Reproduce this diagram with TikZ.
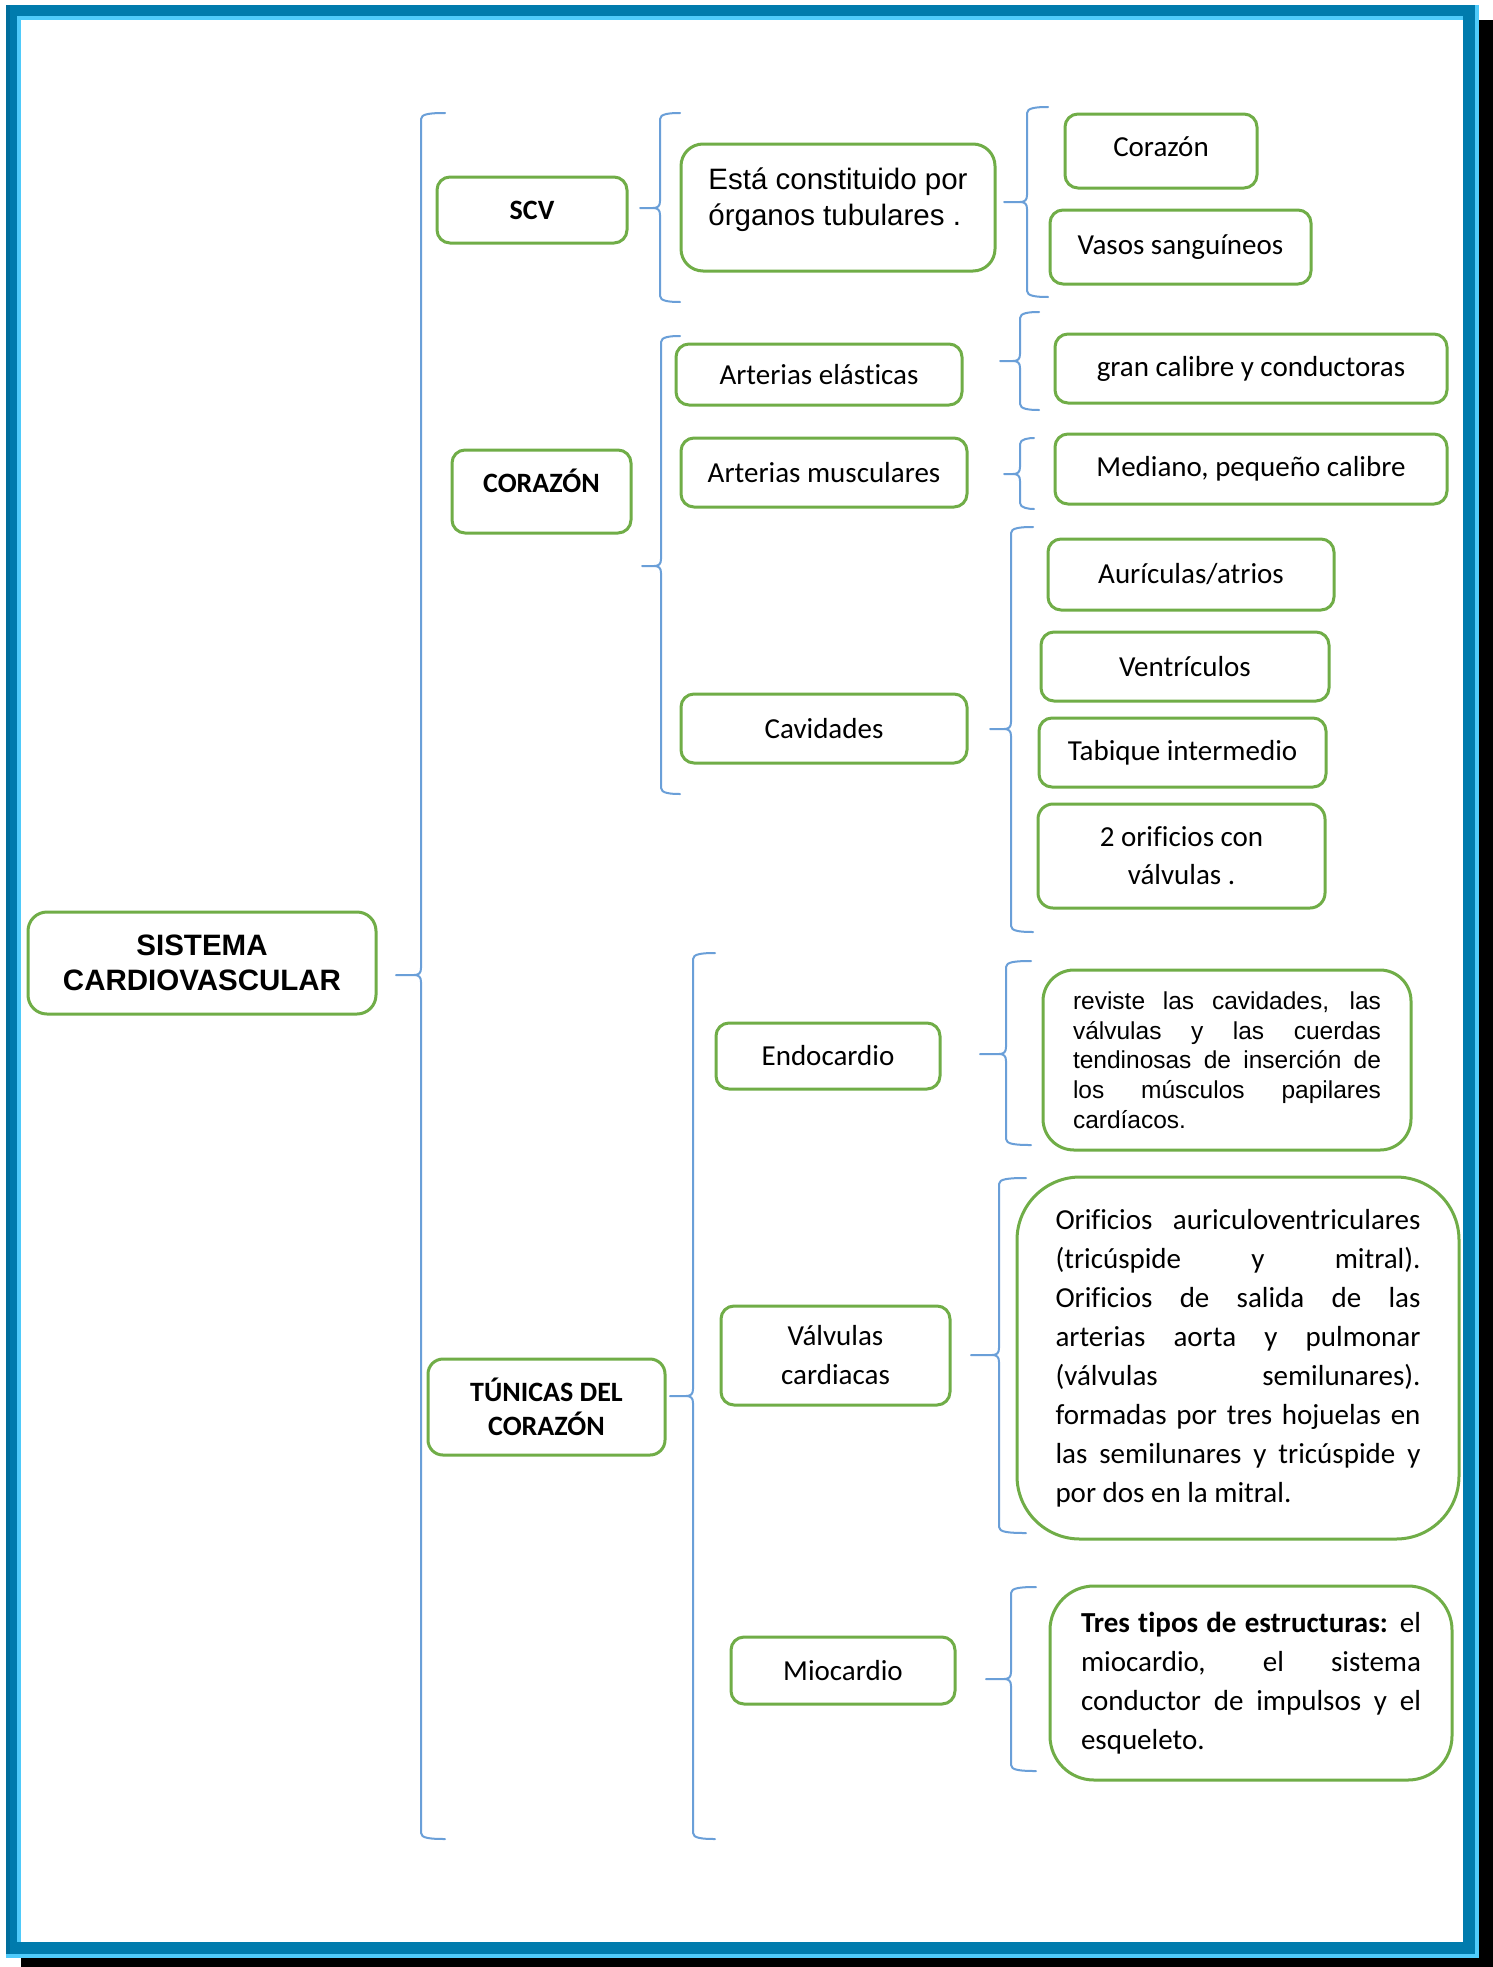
\documentclass[tikz,border=0pt]{standalone}
\usepackage{fontspec}
\setmainfont[Ligatures={NoCommon,NoContextual},RawFeature={-liga;-clig;-dlig}]{Carlito}
\newfontfamily\arialf{Liberation Sans}
\definecolor{gbox}{HTML}{70AD47}
\definecolor{bbr}{HTML}{6A9FD8}
\definecolor{frdark}{HTML}{007BAD}
\definecolor{frdeep}{HTML}{006E9C}
\definecolor{frcyan}{HTML}{4FCBFB}
\newcommand\jl[2]{\makebox[#1][s]{#2}}
\newcommand\drawbrace[6]{%
  \draw[brc] (#6,#2) .. controls ({#1+9},#2) and (#1,{#2+1}) .. (#1,{#2+6})
     -- (#1,{#4-7}) .. controls (#1,{#4-2}) and ({#1-2},#4) .. ({#1-7},#4) -- (#5,#4)
     (#5,#4) -- ({#1-7},#4) .. controls ({#1-2},#4) and (#1,{#4+2}) .. (#1,{#4+7})
     -- (#1,{#3-6}) .. controls (#1,{#3-1}) and ({#1+9},#3) .. (#6,#3);}
\tikzset{
  box/.style={draw=gbox, line width=3pt, rounded corners=13pt, fill=white, inner sep=0pt, align=center,
    font={\fontsize{29}{37}\selectfont}},
  bbox/.style={box, font={\bfseries\fontsize{28}{34}\selectfont}},
  brc/.style={draw=bbr, line width=2pt, line join=round, line cap=round},
}
\begin{document}
\begin{tikzpicture}[x=1pt,y=-1pt]
\useasboundingbox (0,0) rectangle (1493,1967);
% frame with shadow
\fill[black] (21,20) rectangle (1493,1967);
\fill[frcyan] (6,5) rectangle (1479,1958);
\fill[frdark] (6,5) rectangle (1475,1954);
\fill[frdeep] (6,5) rectangle (10,1954);
\fill[frcyan] (17,16) rectangle (1463,1942);
\fill[white] (21,20) rectangle (1463,1942);

% level 0
\node[box, minimum width=348pt, minimum height=102pt, rounded corners=19pt,
  font={\arialf\bfseries\fontsize{29.5}{35}\selectfont}] (sys) at (202,963) {SISTEMA\\CARDIOVASCULAR};

% level 1
\node[bbox, minimum width=190pt, minimum height=66pt] (scv) at (532,210) {SCV};
\node[bbox, minimum width=179pt, minimum height=83pt, text height=14pt, text depth=13pt] (cor) at (541.5,491.5) {CORAZÓN};
\node[bbox, minimum width=237pt, minimum height=96pt, rounded corners=15pt] (tun) at (546.5,1407) {TÚNICAS DEL\\CORAZÓN};

% level 2
\node[box, minimum width=314pt, minimum height=127pt, rounded corners=22pt, align=left,
  font={\arialf\fontsize{29.5}{36}\selectfont}] (est) at (838,207.5) {Está constituido por\\órganos tubulares .\\[-14pt]\mbox{}};
\node[box, minimum width=286pt, minimum height=61pt] (aela) at (819,374.5) {Arterias elásticas};
\node[box, minimum width=286pt, minimum height=69pt] (amus) at (824,472.5) {Arterias musculares};
\node[box, minimum width=286pt, minimum height=69pt] (cav) at (824,728.5) {Cavidades};
\node[box, minimum width=224pt, minimum height=66pt] (endo) at (828,1056) {Endocardio};
\node[box, minimum width=229pt, minimum height=99pt, font={\fontsize{29}{39}\selectfont}] (valv) at (835.5,1355.5) {Válvulas\\cardiacas};
\node[box, minimum width=224pt, minimum height=67pt] (mio) at (843,1670.5) {Miocardio};

% level 3
\node[box, minimum width=192pt, minimum height=74pt, text height=20pt, text depth=10pt] (corz) at (1161,151) {Corazón};
\node[box, minimum width=261pt, minimum height=74pt] (vas) at (1180.5,247) {Vasos sanguíneos};
\node[box, minimum width=392pt, minimum height=69pt] (gran) at (1251,368.5) {gran calibre y conductoras};
\node[box, minimum width=392pt, minimum height=70pt] (med) at (1251,469) {Mediano, pequeño calibre};
\node[box, minimum width=286pt, minimum height=71pt] (aur) at (1191,574.5) {Aurículas/atrios};
\node[box, minimum width=288pt, minimum height=69pt] (ven) at (1185,666.5) {Ventrículos};
\node[box, minimum width=287pt, minimum height=69pt] (tab) at (1182.5,752.5) {Tabique intermedio};
\node[box, minimum width=287pt, minimum height=104pt, rounded corners=15pt, font={\fontsize{29}{38}\selectfont}] (ori) at (1181.5,856) {2 orificios con\\válvulas .};
\node[box, minimum width=368pt, minimum height=180pt, rounded corners=31pt, align=left,
  font={\arialf\fontsize{24.5}{29.7}\selectfont}] (rev) at (1227,1060)
  {\jl{308pt}{reviste las cavidades, las}\\
   \jl{308pt}{válvulas y las cuerdas}\\
   \jl{308pt}{tendinosas de inserción de}\\
   \jl{308pt}{los músculos papilares}\\
   cardíacos.};
\node[box, minimum width=442pt, minimum height=362pt, rounded corners=63pt, align=left,
  font={\fontsize{29}{39}\selectfont}] (orif) at (1238,1358)
  {\jl{365pt}{Orificios auriculoventriculares}\\
   \jl{365pt}{(tricúspide y mitral).}\\
   \jl{365pt}{Orificios de salida de las}\\
   \jl{365pt}{arterias aorta y pulmonar}\\
   \jl{365pt}{(válvulas semilunares).}\\
   \jl{365pt}{formadas por tres hojuelas en}\\
   \jl{365pt}{las semilunares y tricúspide y}\\
   por dos en la mitral.};
\node[box, minimum width=402pt, minimum height=194pt, rounded corners=44pt, align=left,
  font={\fontsize{29}{39}\selectfont}] (tres) at (1251,1683)
  {\jl{340pt}{\textbf{Tres tipos de estructuras:} el}\\
   \jl{340pt}{miocardio, el sistema}\\
   \jl{340pt}{conductor de impulsos y el}\\
   esqueleto.};

% braces: xv, top, bottom, tipy, tipx, endx
\drawbrace{421}{113}{1839}{975}{396}{445}
\drawbrace{660}{113}{302}{208}{640}{680}
\drawbrace{661}{336}{794}{566}{642}{680}
\drawbrace{693}{953}{1839}{1396}{670}{715}
\drawbrace{1027}{107}{297}{202}{1004}{1048}
\drawbrace{1020}{312}{410}{361}{1000}{1039}
\drawbrace{1020}{438}{509}{474}{1004}{1034}
\drawbrace{1011}{527}{932}{729}{990}{1033}
\drawbrace{1006}{961}{1145}{1054}{980}{1031}
\drawbrace{999}{1178}{1533}{1355}{971}{1026}
\drawbrace{1011}{1587}{1771}{1679}{986}{1036}
\end{tikzpicture}
\end{document}
